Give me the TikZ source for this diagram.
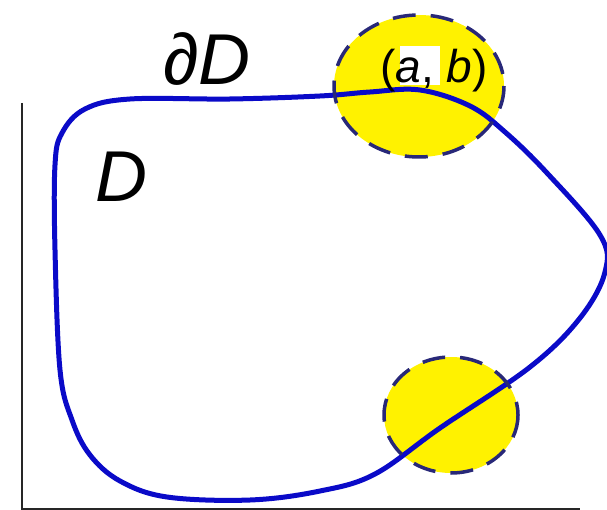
\documentclass[tikz,border=0pt]{standalone}
\usepackage{fontspec}
\setmainfont{Liberation Sans}
\usepackage{tikz}

\definecolor{curveblue}{RGB}{10,10,200}
\definecolor{rimblue}{RGB}{40,40,120}

\tikzset{
    disk/.style={fill=yellow},
    rim/.style={draw=rimblue, line width=3.5pt, dash pattern=on 23pt off 15pt},
    biglabel/.style={inner sep=0pt, anchor=base west, font=\fontsize{72}{80}\selectfont\itshape},
}

\begin{document}
\begin{tikzpicture}[x=1pt, y=-1pt]
            \useasboundingbox (0,0) rectangle (607,510);

            % axes
            \coordinate (ytop) at (22,103);
            \coordinate (origin) at (22,509);
            \coordinate (xend) at (580,509);
            \draw[line width=2.5pt, black!85] (ytop) -- (origin) -- (xend);

            % yellow disks
            \fill[disk] (419,86) ellipse [x radius=85, y radius=71];
            \fill[disk] (451,415) ellipse [x radius=67, y radius=58];

            % boundary curve
            \draw[curveblue, line width=5pt] plot[smooth cycle, tension=0.6] coordinates {
                (320,96) (230,99) (130,99) (85,109) (62,133) (55,165) (55,250)
                (60,370) (72,420) (90,455) (120,481) (167,497) (250,500) (320,491)
                (375,474) (440,428) (530,367) (580,318) (605,272) (600,235)
                (547,173) (505,132) (470,106) (420,90) (370,92)};

            % dashed rims
            \draw[rim] (419,86) ellipse [x radius=85, y radius=71];
            \draw[rim] (451,415) ellipse [x radius=67, y radius=58];

            % labels
            \node[biglabel] (bdry) at (163,85) {∂D};
            \node[biglabel] (dom) at (95,202) {D};
            \fill[white] (400,46) rectangle (440,85);
            \node[inner sep=0pt, anchor=base west, font=\fontsize{46}{50}\selectfont] (pt) at (380,83)
                {(\textit{a}, \textit{b})};
        \end{tikzpicture}
\end{document}
